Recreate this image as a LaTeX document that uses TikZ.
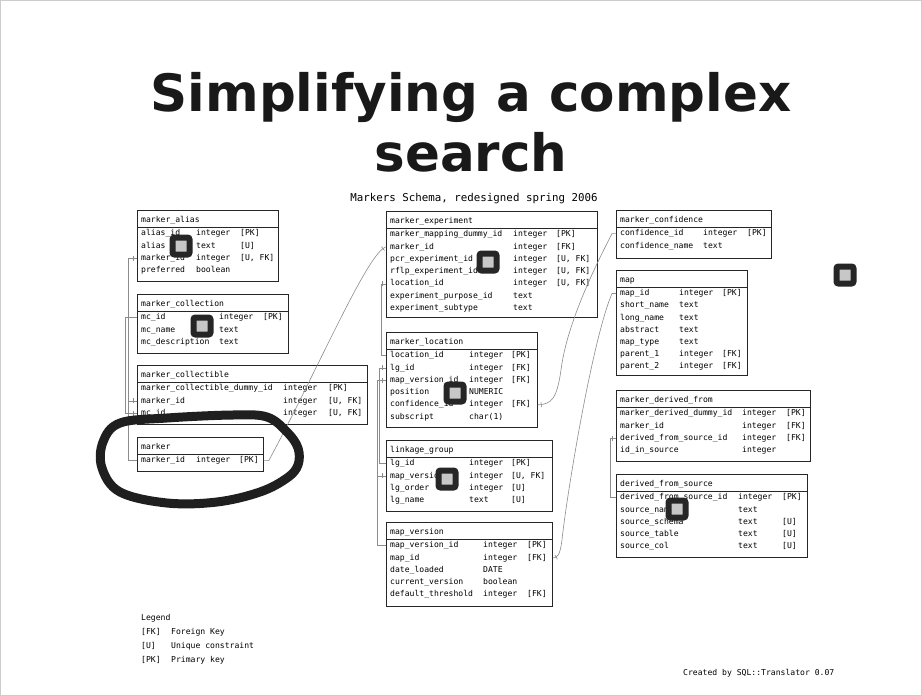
\documentclass[tikz,border=0pt]{standalone}
\usepackage{fontspec}
\usepackage{tikz}
\usetikzlibrary{decorations.markings}
\newfontfamily\schemafont{DejaVu Sans Mono}
\newfontfamily\slidefont{DejaVu Sans}

\begin{document}
\begin{tikzpicture}[x=1pt, y=-1pt,
  tbl/.style={draw=black!85, line width=0.8, anchor=north west, inner sep=0, minimum width=#1},
  rule/.style={draw=black!85, line width=0.8},
  cell/.style={anchor=mid west, inner sep=0, font=\schemafont\fontsize{8.1}{9}\selectfont},
  link/.style={draw=black!45, line width=0.6},
  fk/.style={postaction={decorate}, decoration={markings, mark=at position -3.5pt with {\draw[black!45, line width=0.6] (0,-2.5pt) -- (0,2.5pt);}}},
  blob/.style={draw=black!85, fill=black!22, line width=6, minimum size=17, inner sep=0, rounded corners=2},
  loopline/.style={draw=black!88, line width=9, line join=round}]

\useasboundingbox (0,0) rectangle (922,696);
\fill[white] (0,0) rectangle (922,696);
\draw[black!20, line width=1] (0.5,0.5) rectangle (921.5,695.5);

\node[font=\slidefont\bfseries\fontsize{51.5}{60}\selectfont, text=black!90, align=center, anchor=north, inner sep=0] (title) at (471,72) {Simplifying a complex\\search};
\node[anchor=mid, inner sep=0, font=\schemafont\fontsize{10.8}{12}\selectfont] (subtitle) at (474,199) {Markers Schema, redesigned spring 2006};

% marker_alias
\node[cell] (alias-t) at (141,220) {marker\_alias};
\foreach \fld/\typ/\key [count=\i] in {alias\_id/integer/[PK], alias/text/[U], marker\_id/integer/{[U, FK]}, preferred/boolean/} {
  \node[cell] (alias-\i) at (141,221.3+12.3*\i) {\fld};
  \node[cell] (alias-\i-t) at (196,221.3+12.3*\i) {\typ};
  \node[cell] (alias-\i-k) at (240,221.3+12.3*\i) {\key};
}
\node[tbl=141, minimum height=71] (alias) at (137,210) {};
\draw[rule] (alias.north west) ++(0,17) -- ++(141,0);

% marker_collection
\node[cell] (mcoll-t) at (141,304) {marker\_collection};
\foreach \fld/\typ/\key [count=\i] in {mc\_id/integer/[PK], mc\_name/text/, mc\_description/text/} {
  \node[cell] (mcoll-\i) at (141,305.3+12.3*\i) {\fld};
  \node[cell] (mcoll-\i-t) at (219,305.3+12.3*\i) {\typ};
  \node[cell] (mcoll-\i-k) at (263,305.3+12.3*\i) {\key};
}
\node[tbl=151, minimum height=58.7] (mcoll) at (137,294) {};
\draw[rule] (mcoll.north west) ++(0,17) -- ++(151,0);

% marker_collectible
\node[cell] (mcbl-t) at (141,375) {marker\_collectible};
\foreach \fld/\typ/\key [count=\i] in {marker\_collectible\_dummy\_id/integer/[PK], marker\_id/integer/{[U, FK]}, mc\_id/integer/{[U, FK]}} {
  \node[cell] (mcbl-\i) at (141,376.3+12.3*\i) {\fld};
  \node[cell] (mcbl-\i-t) at (283,376.3+12.3*\i) {\typ};
  \node[cell] (mcbl-\i-k) at (328,376.3+12.3*\i) {\key};
}
\node[tbl=230, minimum height=58.7] (mcbl) at (137,365) {};
\draw[rule] (mcbl.north west) ++(0,17) -- ++(230,0);

% marker
\node[cell] (mk-t) at (141,447) {marker};
\node[cell] (mk-1) at (141,460.6) {marker\_id};
\node[cell] (mk-1-t) at (196,460.6) {integer};
\node[cell] (mk-1-k) at (239,460.6) {[PK]};
\node[tbl=126, minimum height=34.1] (mk) at (137,437) {};
\draw[rule] (mk.north west) ++(0,17) -- ++(126,0);

% marker_experiment
\node[cell] (mexp-t) at (390,221) {marker\_experiment};
\foreach \fld/\typ/\key [count=\i] in {marker\_mapping\_dummy\_id/integer/[PK], marker\_id/integer/[FK], pcr\_experiment\_id/integer/{[U, FK]}, rflp\_experiment\_id/integer/{[U, FK]}, location\_id/integer/{[U, FK]}, experiment\_purpose\_id/text/, experiment\_subtype/text/} {
  \node[cell] (mexp-\i) at (390,222.3+12.3*\i) {\fld};
  \node[cell] (mexp-\i-t) at (513,222.3+12.3*\i) {\typ};
  \node[cell] (mexp-\i-k) at (556,222.3+12.3*\i) {\key};
}
\node[tbl=211, minimum height=106] (mexp) at (386,211) {};
\draw[rule] (mexp.north west) ++(0,17) -- ++(211,0);

% marker_location
\node[cell] (mloc-t) at (390,342) {marker\_location};
\foreach \fld/\typ/\key [count=\i] in {location\_id/integer/[PK], lg\_id/integer/[FK], map\_version\_id/integer/[FK], position/NUMERIC/, confidence\_id/integer/[FK], subscript/char(1)/} {
  \node[cell] (mloc-\i) at (390,343.3+12.3*\i) {\fld};
  \node[cell] (mloc-\i-t) at (469,343.3+12.3*\i) {\typ};
  \node[cell] (mloc-\i-k) at (511,343.3+12.3*\i) {\key};
}
\node[tbl=151, minimum height=95] (mloc) at (386,332) {};
\draw[rule] (mloc.north west) ++(0,17) -- ++(151,0);

% linkage_group
\node[cell] (lg-t) at (390,450) {linkage\_group};
\foreach \fld/\typ/\key [count=\i] in {lg\_id/integer/[PK], map\_version\_id/integer/{[U, FK]}, lg\_order/integer/[U], lg\_name/text/[U]} {
  \node[cell] (lg-\i) at (390,451.3+12.3*\i) {\fld};
  \node[cell] (lg-\i-t) at (469,451.3+12.3*\i) {\typ};
  \node[cell] (lg-\i-k) at (511,451.3+12.3*\i) {\key};
}
\node[tbl=166, minimum height=71] (lg) at (386,440) {};
\draw[rule] (lg.north west) ++(0,17) -- ++(166,0);

% map_version
\node[cell] (mv-t) at (390,532) {map\_version};
\foreach \fld/\typ/\key [count=\i] in {map\_version\_id/integer/[PK], map\_id/integer/[FK], date\_loaded/DATE/, current\_version/boolean/, default\_threshold/integer/[FK]} {
  \node[cell] (mv-\i) at (390,533.3+12.3*\i) {\fld};
  \node[cell] (mv-\i-t) at (483,533.3+12.3*\i) {\typ};
  \node[cell] (mv-\i-k) at (527,533.3+12.3*\i) {\key};
}
\node[tbl=166, minimum height=84] (mv) at (386,522) {};
\draw[rule] (mv.north west) ++(0,17) -- ++(166,0);

% marker_confidence
\node[cell] (mconf-t) at (620,220) {marker\_confidence};
\foreach \fld/\typ/\key [count=\i] in {confidence\_id/integer/[PK], confidence\_name/text/} {
  \node[cell] (mconf-\i) at (620,221.3+12.3*\i) {\fld};
  \node[cell] (mconf-\i-t) at (703,221.3+12.3*\i) {\typ};
  \node[cell] (mconf-\i-k) at (747,221.3+12.3*\i) {\key};
}
\node[tbl=155, minimum height=48] (mconf) at (616,210) {};
\draw[rule] (mconf.north west) ++(0,17) -- ++(155,0);

% map
\node[cell] (map-t) at (620,280) {map};
\foreach \fld/\typ/\key [count=\i] in {map\_id/integer/[PK], short\_name/text/, long\_name/text/, abstract/text/, map\_type/text/, parent\_1/integer/[FK], parent\_2/integer/[FK]} {
  \node[cell] (map-\i) at (620,281.3+12.2*\i) {\fld};
  \node[cell] (map-\i-t) at (679,281.3+12.2*\i) {\typ};
  \node[cell] (map-\i-k) at (722,281.3+12.2*\i) {\key};
}
\node[tbl=131, minimum height=105] (map) at (616,270) {};
\draw[rule] (map.north west) ++(0,17) -- ++(131,0);

% marker_derived_from
\node[cell] (mdf-t) at (620,400) {marker\_derived\_from};
\foreach \fld/\typ/\key [count=\i] in {marker\_derived\_dummy\_id/integer/[PK], marker\_id/integer/[FK], derived\_from\_source\_id/integer/[FK], id\_in\_source/integer/} {
  \node[cell] (mdf-\i) at (620,401.3+12.3*\i) {\fld};
  \node[cell] (mdf-\i-t) at (742,401.3+12.3*\i) {\typ};
  \node[cell] (mdf-\i-k) at (786,401.3+12.3*\i) {\key};
}
\node[tbl=194, minimum height=71] (mdf) at (616,390) {};
\draw[rule] (mdf.north west) ++(0,17) -- ++(194,0);

% derived_from_source
\node[cell] (dfs-t) at (620,484) {derived\_from\_source};
\foreach \fld/\typ/\key [count=\i] in {derived\_from\_source\_id/integer/[PK], source\_name/text/, source\_schema/text/[U], source\_table/text/[U], source\_col/text/[U]} {
  \node[cell] (dfs-\i) at (620,485.3+12.3*\i) {\fld};
  \node[cell] (dfs-\i-t) at (738,485.3+12.3*\i) {\typ};
  \node[cell] (dfs-\i-k) at (782,485.3+12.3*\i) {\key};
}
\node[tbl=191, minimum height=83.3] (dfs) at (616,474) {};
\draw[rule] (dfs.north west) ++(0,17) -- ++(191,0);

% links
\draw[link, fk] (mk.west |- mk-1) -- ++(-9,0) |- (alias.west |- alias-3);
\draw[link, fk] (mk.west |- mk-1) -- ++(-9,0) |- (mcbl.west |- mcbl-2);
\draw[link, fk] (mcoll.west |- mcoll-1) -- ++(-12,0) |- (mcbl.west |- mcbl-3);
\draw[link, fk] (mk.east |- mk-1) -- ++(5,0) .. controls (320,365) and (368,252) .. (mexp.west |- mexp-2);
\draw[link, fk] (mloc.west |- mloc-1) -- ++(-5,0) |- (mexp.west |- mexp-5);
\draw[link, fk] (lg.west |- lg-1) -- ++(-7,0) |- (mloc.west |- mloc-2);
\draw[link, fk] (mv.west |- mv-1) -- ++(-9,0) |- (mloc.west |- mloc-3);
\draw[link, fk] (mv.west |- mv-1) -- ++(-9,0) |- (lg.west |- lg-2);
\draw[link, fk] (mconf.west |- mconf-1) -- ++(-4,0) .. controls (588,280) and (566,330) .. (561,370) .. controls (557,398) and (552,404.4) .. (mloc.east |- mloc-5);
\draw[link, fk] (map.west |- map-1) -- ++(-4,0) .. controls (592,340) and (566,500) .. (562,540) .. controls (560,556) and (557,557.9) .. (mv.east |- mv-2);
\draw[link, fk] (dfs.west |- dfs-1) -- ++(-6,0) |- (mdf.west |- mdf-3);

% legend
\node[cell] (legend) at (141,618) {Legend};
\node[cell] (leg-fk) at (141,632) {[FK]};
\node[cell] (leg-fk-t) at (171,632) {Foreign Key};
\node[cell] (leg-u) at (141,646) {[U]};
\node[cell] (leg-u-t) at (171,646) {Unique constraint};
\node[cell] (leg-pk) at (141,660) {[PK]};
\node[cell] (leg-pk-t) at (171,660) {Primary key};
\node[cell] (credit) at (683,673) {Created by SQL::Translator 0.07};

% marks on top
\draw[loopline] plot[smooth cycle, tension=0.6] coordinates {(103,442) (120,423) (167,418) (233,415) (267,417) (287,432) (298,448) (298,465) (287,478) (260,492) (217,502) (167,503) (120,492) (102,468)};
\foreach \px/\py [count=\i] in {181/246, 202/326, 488/262, 455/393, 447/479, 677/509, 845/275}
  \node[blob] (blob-\i) at (\px,\py) {};

\end{tikzpicture}
\end{document}
